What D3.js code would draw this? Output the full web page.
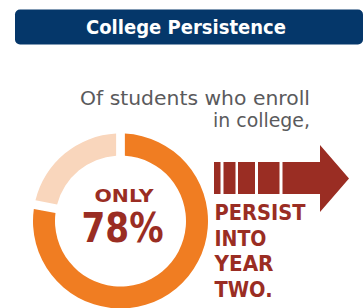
<!DOCTYPE html>
<html>
<head>
<meta charset="utf-8">
<script src="https://cdn.jsdelivr.net/npm/d3@7"></script>
<style>
  body { margin: 0; background: #fff; }
  #chartDiv { width: 364px; height: 308px; }
</style>
</head>
<body>
<div id="chartDiv"></div>
<script>
// data
var categories = ["Persist into year two", "Do not persist"];
var shares = [78, 22];
var sliceColors = ["#f07d22", "#f9d6bc"];
var titleText = "College Persistence";
var introLines = ["Of students who enroll", "in college,"];
var calloutTop = "ONLY";
var calloutValue = shares[0] + "%";
var outcomeLines = ["PERSIST", "INTO", "YEAR", "TWO."];

var width = 364, height = 308;
var navy = "#05376a", red = "#9a2d23", gray = "#5a5a5c";
var font = "'DejaVu Sans', sans-serif";

let svg = d3.select("#chartDiv").append("svg")
    .attr("width", width)
    .attr("height", height);

// title bar
svg.append("rect")
    .attr("x", 15).attr("y", 9.5)
    .attr("width", 348).attr("height", 35)
    .attr("rx", 5)
    .attr("fill", navy);

svg.append("text")
    .attr("x", 186).attr("y", 33.5)
    .attr("text-anchor", "middle")
    .attr("fill", "#fff")
    .style("font-family", font)
    .style("font-weight", "bold")
    .style("font-size", "20px")
    .attr("textLength", 200)
    .attr("lengthAdjust", "spacingAndGlyphs")
    .text(titleText);

// intro text, right aligned
const introWidths = [230, 97];
svg.selectAll(".intro")
    .data(introLines)
    .join("text")
    .attr("class", "intro")
    .attr("x", 310)
    .attr("y", (d, i) => 104.5 + i * 22)
    .attr("text-anchor", "end")
    .attr("fill", gray)
    .style("font-family", font)
    .style("font-size", "19px")
    .attr("textLength", (d, i) => introWidths[i])
    .attr("lengthAdjust", "spacingAndGlyphs")
    .text(d => d);

// donut
const cx = 120.5, cy = 221;
const pie = d3.pie().sort(null).value(d => d.value);
const arc = d3.arc()
    .innerRadius(65.5)
    .outerRadius(87.5)
    .padAngle(0.1)
    .padRadius(87.5);

const pieData = pie(categories.map((c, i) => ({name: c, value: shares[i]})));

svg.append("g")
    .attr("transform", `translate(${cx},${cy})`)
    .selectAll("path")
    .data(pieData)
    .join("path")
    .attr("d", arc)
    .attr("fill", (d, i) => sliceColors[i]);

svg.append("text")
    .attr("x", 124).attr("y", 201.5)
    .attr("text-anchor", "middle")
    .attr("fill", red)
    .style("font-family", font)
    .style("font-weight", "bold")
    .style("font-size", "18.5px")
    .attr("textLength", 59)
    .attr("lengthAdjust", "spacingAndGlyphs")
    .text(calloutTop);

svg.append("text")
    .attr("x", 122.5).attr("y", 241.5)
    .attr("text-anchor", "middle")
    .attr("fill", red)
    .style("font-family", font)
    .style("font-weight", "bold")
    .style("font-size", "41px")
    .attr("textLength", 82)
    .attr("lengthAdjust", "spacingAndGlyphs")
    .text(calloutValue);

// arrow: striped tail, body, head
const tail = [[214, 220.5], [223.5, 235.5], [238, 255], [258, 279.5]];
svg.selectAll(".tail")
    .data(tail)
    .join("rect")
    .attr("class", "tail")
    .attr("x", d => d[0])
    .attr("y", 162)
    .attr("width", d => d[1] - d[0])
    .attr("height", 32)
    .attr("fill", red);

svg.append("path")
    .attr("d", d3.line()([[282.5, 162], [320, 162], [320, 145], [349, 178.5],
                           [320, 212], [320, 194], [282.5, 194]]) + "Z")
    .attr("fill", red);

// outcome text
const outcomeWidths = [91, 52, 59, 58];
svg.selectAll(".outcome")
    .data(outcomeLines)
    .join("text")
    .attr("class", "outcome")
    .attr("x", 214.5)
    .attr("y", (d, i) => 220 + i * 25.6)
    .attr("fill", red)
    .style("font-family", font)
    .style("font-weight", "bold")
    .style("font-size", "20.5px")
    .attr("textLength", (d, i) => outcomeWidths[i])
    .attr("lengthAdjust", "spacingAndGlyphs")
    .text(d => d);
</script>
</body>
</html>
